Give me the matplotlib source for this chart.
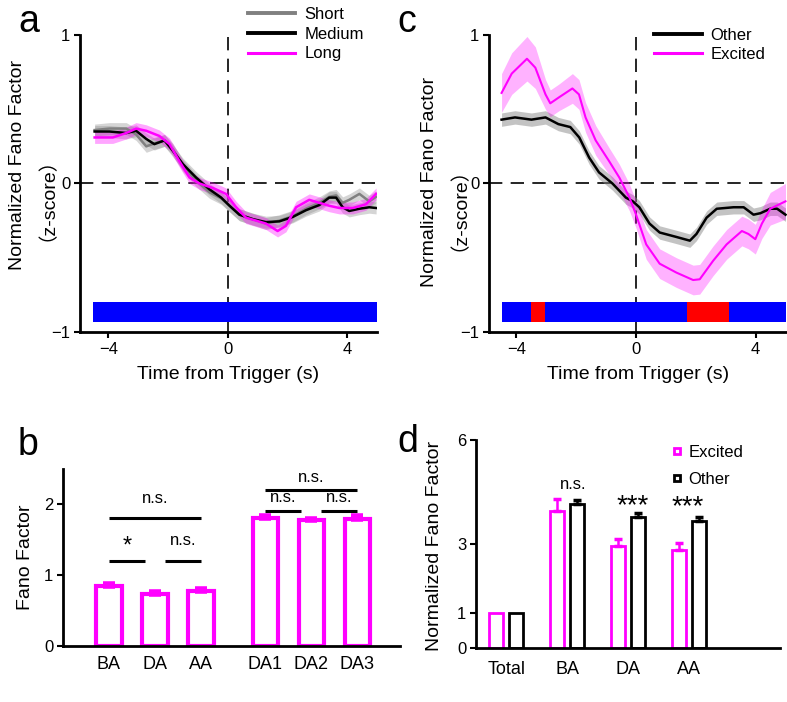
import numpy as np
import matplotlib.pyplot as plt
from matplotlib.lines import Line2D

plt.rcParams['font.family'] = ['Liberation Sans', 'Noto Sans CJK SC', 'DejaVu Sans']
plt.rcParams['axes.linewidth'] = 2.0

MAGENTA = '#ff00ff'
GRAY = '#808080'

# ---- panel a: Fano factor around trigger, three durations ----
t_a = [-4.46, -3.96, -3.4, -3.07, -2.73, -2.46, -2.12, -1.84, -1.5, -1.06, -0.61, -0.22, 0.06,
       0.39, 0.84, 1.28, 1.73, 2.18, 2.62, 3.07, 3.4, 3.63, 3.85, 4.07, 4.41, 4.74, 4.97]
short_mean = [0.36, 0.37, 0.37, 0.33, 0.25, 0.27, 0.29, 0.23, 0.12, 0.02, -0.06, -0.1, -0.15,
              -0.21, -0.24, -0.27, -0.25, -0.22, -0.17, -0.13, -0.09, -0.08, -0.13, -0.11, -0.07, -0.12, -0.09]
medium_mean = [0.35, 0.35, 0.34, 0.355, 0.30, 0.265, 0.29, 0.22, 0.13, 0.04, -0.04, -0.095, -0.15,
               -0.21, -0.24, -0.26, -0.255, -0.225, -0.18, -0.145, -0.095, -0.095, -0.16, -0.185, -0.17, -0.16, -0.165]
t_long = [-4.46, -3.85, -3.4, -3.07, -2.73, -2.29, -1.95, -1.62, -1.28, -0.95, -0.5, -0.06, 0.28,
          0.61, 0.95, 1.28, 1.67, 1.95, 2.29, 2.73, 3.07, 3.4, 3.74, 4.19, 4.63, 4.97]
long_mean = [0.31, 0.31, 0.34, 0.37, 0.355, 0.32, 0.265, 0.15, 0.04, 0.0, -0.03, -0.07, -0.16,
             -0.23, -0.25, -0.27, -0.32, -0.285, -0.16, -0.11, -0.13, -0.15, -0.165, -0.165, -0.14, -0.07]
sem_a = 0.04
bar_edges_a = [-4.5, 5.0]
bar_colors_a = ['#0000ff']

# ---- panel c: excited vs other neurons ----
t_other = [-4.5, -4.05, -3.5, -3.03, -2.6, -2.2, -1.9, -1.57, -1.24, -0.79, -0.34, -0.11, 0.11, 0.45,
           0.79, 1.35, 1.8, 2.02, 2.36, 2.7, 3.26, 3.6, 3.93, 4.16, 4.49, 4.72, 5.0]
other_mean = [0.43, 0.445, 0.43, 0.445, 0.40, 0.38, 0.31, 0.175, 0.075, 0.0, -0.095, -0.12, -0.16, -0.27,
              -0.33, -0.36, -0.385, -0.34, -0.23, -0.17, -0.16, -0.16, -0.21, -0.2, -0.17, -0.17, -0.21]
sem_other = 0.045
t_exc = [-4.5, -4.16, -3.65, -3.37, -3.03, -2.87, -2.58, -2.13, -1.91, -1.69, -1.35, -0.9, -0.56, -0.22,
         0.0, 0.34, 0.79, 1.35, 1.91, 2.13, 2.58, 3.03, 3.54, 3.76, 3.99, 4.21, 4.49, 5.0]
exc_mean = [0.61, 0.74, 0.84, 0.78, 0.6, 0.54, 0.58, 0.64, 0.60, 0.445, 0.29, 0.15, 0.04, -0.095,
            -0.21, -0.41, -0.54, -0.6, -0.65, -0.645, -0.52, -0.41, -0.32, -0.34, -0.375, -0.27, -0.17, -0.12]
exc_sem = [0.13, 0.14, 0.15, 0.14, 0.1, 0.09, 0.09, 0.1, 0.1, 0.1, 0.1, 0.09, 0.09, 0.09,
           0.09, 0.1, 0.1, 0.1, 0.1, 0.1, 0.1, 0.1, 0.1, 0.1, 0.1, 0.1, 0.11, 0.12]
bar_edges_c = [-4.5, -3.5, -3.05, 1.7, 3.1, 5.0]
bar_colors_c = ['#0000ff', '#ff0000', '#0000ff', '#ff0000', '#0000ff']

# ---- panel b: raw Fano factor per epoch ----
b_labels = ['BA', 'DA', 'AA', 'DA1', 'DA2', 'DA3']
b_pos = [1, 2, 3, 4.4, 5.4, 6.4]
b_vals = [0.85, 0.74, 0.77, 1.81, 1.78, 1.80]
b_err = [0.03, 0.02, 0.04, 0.03, 0.02, 0.03]

# ---- panel d: normalized Fano factor, excited vs other ----
d_labels = ['Total', 'BA', 'DA', 'AA']
d_excited = [1.0, 3.95, 2.95, 2.84]
d_excited_err = [0.0, 0.34, 0.2, 0.18]
d_other = [1.0, 4.15, 3.77, 3.67]
d_other_err = [0.0, 0.13, 0.13, 0.12]

W, H = 787, 702
fig = plt.figure(figsize=(W / 100, H / 100), dpi=100)


def px_axes(left, top, right, bottom):
    return fig.add_axes([left / W, 1 - bottom / H, (right - left) / W, (bottom - top) / H])


def style(ax):
    for s in ['top', 'right']:
        ax.spines[s].set_visible(False)
    ax.tick_params(direction='out', length=4, width=1.5, labelsize=12, pad=3)


def trace_axes(ax, xlim, edges, colors, lab1, lab2):
    style(ax)
    ax.set_xlim(*xlim)
    ax.set_ylim(-1, 1)
    ax.set_xticks([-4, 0, 4])
    ax.set_yticks([-1, 0, 1])
    ax.axhline(0, color='k', lw=1.2, ls=(0, (8, 5)), zorder=1)
    ax.axvline(0, color='k', lw=1.2, ls=(0, (8, 5)), zorder=1)
    ax.barh(-0.8675, np.diff(edges), left=edges[:-1], height=0.135, color=colors, zorder=3)
    ax.set_xlabel('Time from Trigger (s)', fontsize=14)
    ax.xaxis.set_label_coords(0.5, -0.115)
    ax.set_ylabel('Normalized Fano Factor', fontsize=14, va='center')
    ax.yaxis.set_label_coords(*lab1)
    # the rotated full-width brackets render ~13 px low, so the anchor is lifted a bit
    ax.text(lab2[0], lab2[1], '（z-score）', transform=ax.transAxes, rotation=90,
            ha='center', va='center', fontsize=14)


# panel a
ax_a = px_axes(80, 35, 377, 332)
trace_axes(ax_a, (-4.95, 5.0), bar_edges_a, bar_colors_a, (-0.212, 0.562), (-0.143, 0.481))
for t, m, c in [(t_a, short_mean, GRAY), (t_a, medium_mean, 'k'), (t_long, long_mean, MAGENTA)]:
    m = np.array(m)
    band = '#888888' if c != MAGENTA else MAGENTA
    ax_a.fill_between(t, m - sem_a, m + sem_a, color=band, alpha=0.35, lw=0, zorder=2)
    ax_a.plot(t, m, color=c, lw=1.8, zorder=4)
leg_a = [Line2D([], [], color=GRAY, lw=2.8), Line2D([], [], color='k', lw=2.8), Line2D([], [], color=MAGENTA, lw=2.2)]
ax_a.legend(leg_a, ['Short', 'Medium', 'Long'], loc='upper left', bbox_to_anchor=(248 / W, 1 - 7 / H),
            bbox_transform=fig.transFigure, frameon=False, fontsize=12, borderpad=0, borderaxespad=0,
            handlelength=2.8, handletextpad=0.6, labelspacing=0.28)

# panel c
ax_c = px_axes(489, 35, 787, 332)
trace_axes(ax_c, (-4.92, 5.05), bar_edges_c, bar_colors_c, (-0.201, 0.505), (-0.132, 0.448))
om = np.array(other_mean)
ax_c.fill_between(t_other, om - sem_other, om + sem_other, color='#888888', alpha=0.5, lw=0, zorder=2)
ax_c.plot(t_other, om, color='k', lw=1.8, zorder=4)
em, es = np.array(exc_mean), np.array(exc_sem)
ax_c.fill_between(t_exc, em - es, em + es, color=MAGENTA, alpha=0.3, lw=0, zorder=2)
ax_c.plot(t_exc, em, color=MAGENTA, lw=1.5, zorder=4)
leg_c = [Line2D([], [], color='k', lw=2.8), Line2D([], [], color=MAGENTA, lw=2.2)]
ax_c.legend(leg_c, ['Other', 'Excited'], loc='upper left', bbox_to_anchor=(654 / W, 1 - 28 / H),
            bbox_transform=fig.transFigure, frameon=False, fontsize=12, borderpad=0, borderaxespad=0,
            handlelength=2.9, handletextpad=0.5, labelspacing=0.25)

# panel b
ax_b = px_axes(63, 469, 400, 646)
style(ax_b)
ax_b.bar(b_pos, b_vals, width=0.55, facecolor='white', edgecolor=MAGENTA, linewidth=3, zorder=2)
ax_b.errorbar(b_pos, b_vals, yerr=[np.zeros(len(b_err)), b_err], fmt='none', ecolor=MAGENTA,
              elinewidth=4, capsize=4.5, capthick=4, zorder=2)
ax_b.set_xlim(0, 7.33)
ax_b.set_ylim(0, 2.5)
ax_b.set_yticks([0, 1, 2])
ax_b.set_xticks(b_pos)
ax_b.set_xticklabels(b_labels)
ax_b.tick_params(axis='x', length=0, pad=7, labelsize=13)
ax_b.set_ylabel('Fano Factor', fontsize=14, va='center')
ax_b.yaxis.set_label_coords(-0.11, 0.5)
sig_b = [(1, 1.78, 1.2, '*', 1.32), (2.22, 3, 1.2, 'n.s.', 1.42), (1, 3, 1.81, 'n.s.', 2.02),
         (4.4, 5.18, 1.91, 'n.s.', 2.03), (5.62, 6.4, 1.91, 'n.s.', 2.03), (4.4, 6.4, 2.21, 'n.s.', 2.32)]
for x0, x1, y, txt, ty in sig_b:
    ax_b.plot([x0, x1], [y, y], color='k', lw=2.2, solid_capstyle='butt', clip_on=False)
    ax_b.text((x0 + x1) / 2, ty, txt, ha='center', va='baseline', fontsize=17 if txt == '*' else 12)

# panel d
ax_d = px_axes(476, 440, 780, 648)
style(ax_d)
xd = np.arange(1, len(d_labels) + 1)
ax_d.bar(xd - 0.164, d_excited, width=0.23, facecolor='white', edgecolor=MAGENTA, linewidth=2, zorder=2)
ax_d.bar(xd + 0.164, d_other, width=0.23, facecolor='white', edgecolor='k', linewidth=2, zorder=2)
ax_d.errorbar((xd - 0.164)[1:], d_excited[1:], yerr=[np.zeros(3), d_excited_err[1:]], fmt='none',
              ecolor=MAGENTA, elinewidth=1.8, capsize=3, capthick=2.5)
ax_d.errorbar((xd + 0.164)[1:], d_other[1:], yerr=[np.zeros(3), d_other_err[1:]], fmt='none',
              ecolor='k', elinewidth=1.8, capsize=3, capthick=2.5)
ax_d.set_xlim(0.5, 5.49)
ax_d.set_ylim(0, 6)
ax_d.set_yticks([0, 1, 3, 6])
ax_d.set_xticks(xd)
ax_d.set_xticklabels(d_labels)
ax_d.tick_params(axis='x', length=0, pad=9, labelsize=13)
ax_d.set_ylabel('Normalized Fano Factor', fontsize=14, va='center')
ax_d.yaxis.set_label_coords(-0.138, 0.49)
ax_d.text(2.1, 4.6, 'n.s.', ha='center', va='baseline', fontsize=12)
ax_d.text(3.07, 3.88, '***', ha='center', va='baseline', fontsize=20)
ax_d.text(3.98, 3.85, '***', ha='center', va='baseline', fontsize=20)
leg_d = [Line2D([], [], ls='none', marker='s', ms=5, mfc='white', mec=MAGENTA, mew=2),
         Line2D([], [], ls='none', marker='s', ms=5, mfc='white', mec='k', mew=2)]
ax_d.legend(leg_d, ['Excited', 'Other'], loc='upper left', bbox_to_anchor=(670 / W, 1 - 445 / H),
            bbox_transform=fig.transFigure, frameon=False, fontsize=12, borderpad=0, borderaxespad=0,
            handlelength=0.8, handletextpad=0.3, labelspacing=0.7)

# panel letters
for x, y, s in [(18, 32, 'a'), (397, 32, 'c'), (18, 455, 'b'), (397, 452, 'd')]:
    fig.text(x / W, 1 - y / H, s, fontsize=27, ha='left', va='baseline')

fig.savefig('out.png', dpi=100)
